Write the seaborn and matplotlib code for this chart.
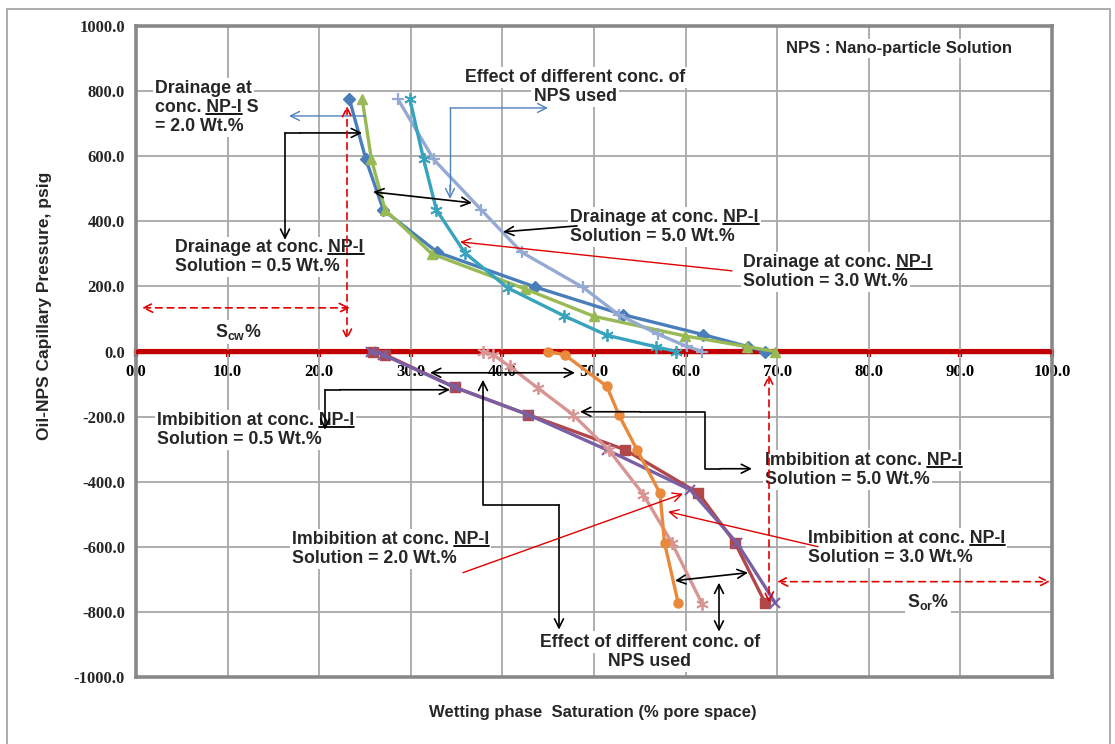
import numpy as np
import pandas as pd
import matplotlib.pyplot as plt
import seaborn as sns
from matplotlib.lines import Line2D
from matplotlib.patches import Rectangle
from matplotlib.transforms import IdentityTransform

sns.set_style("white")
plt.rcParams['font.family'] = ['Liberation Sans', 'DejaVu Sans']
plt.rcParams['mathtext.fontset'] = 'custom'
plt.rcParams['mathtext.bf'] = 'Liberation Sans:bold'
plt.rcParams['mathtext.rm'] = 'Liberation Sans:bold'

# Drainage curves: wetting phase saturation (%) vs capillary pressure (psig)
d05_sw = [23.3, 25.1, 27.0, 32.9, 43.6, 53.2, 61.9, 66.8, 68.7]
d05_pc = [775, 590, 435, 305, 198, 113, 52, 15, 0]
d20_sw = [24.7, 25.7, 27.2, 32.3, 42.5, 50.0, 59.9, 66.7, 69.8]
d20_pc = [775, 590, 435, 300, 192, 108, 48, 15, 0]
d50_sw = [28.6, 32.5, 37.7, 42.1, 48.8, 52.7, 57.0, 60.1, 61.8]
d50_pc = [775, 590, 435, 305, 197, 113, 53, 16, 0]
d30_sw = [29.9, 31.4, 32.8, 35.9, 40.6, 46.7, 51.4, 56.8, 59.0]
d30_pc = [775, 590, 435, 303, 195, 110, 50, 14, 0]

# Imbibition curves
i05_sw = [25.9, 27.2, 34.8, 42.8, 53.4, 61.4, 65.4, 68.7]
i05_pc = [0, -10, -110, -194, -302, -435, -588, -773]
i20_sw = [25.7, 27.0, 34.8, 42.8, 51.4, 60.5, 65.6, 69.8]
i20_pc = [0, -10, -110, -194, -302, -425, -588, -773]
i50_sw = [37.9, 39.0, 40.8, 43.9, 47.7, 51.6, 55.4, 58.5, 61.8]
i50_pc = [0, -10, -46, -113, -194, -302, -440, -588, -775]
i30_sw = [45.0, 46.8, 51.4, 52.7, 54.7, 57.2, 57.7, 59.2]
i30_pc = [0, -10, -107, -194, -302, -435, -588, -773]

xticks = [0, 10, 20, 30, 40, 50, 60, 70, 80, 90, 100]
yticks = [-1000, -800, -600, -400, -200, 0, 200, 400, 600, 800, 1000]

W, H = 1115, 744
fig = plt.figure(figsize=(W / 100, H / 100), dpi=100)
ax = fig.add_axes([136 / W, 1 - 677 / H, (1052 - 136) / W, (677 - 26) / H])

# outer chart frame
fig.add_artist(Rectangle((7 / W, -0.02), (1110 - 7) / W, 1.02 - 9 / H, transform=fig.transFigure,
                         fill=False, edgecolor='#a0a0a0', lw=1.2))

series = [
    (d05_sw, d05_pc, '#4A7EBB', 'D', 6.5, 1.0),
    (d20_sw, d20_pc, '#98B954', '^', 7, 1.0),
    (d50_sw, d50_pc, '#95AAD3', '+', 9, 1.6),
    (d30_sw, d30_pc, '#38A3BD', (6, 2, 0), 9, 1.3),
    (i05_sw, i05_pc, '#B2474A', 's', 6.5, 1.0),
    (i20_sw, i20_pc, '#7A5FA5', 'x', 7, 1.5),
    (i50_sw, i50_pc, '#D99594', (6, 2, 0), 9, 1.3),
    (i30_sw, i30_pc, '#E8893B', 'o', 6.5, 1.0),
]
for sw, pc, c, m, ms, mew in series:
    sns.lineplot(x=sw, y=pc, sort=False, estimator=None, color=c, marker=m,
                 markersize=ms, markeredgecolor=c, markeredgewidth=mew,
                 linewidth=2.4, ax=ax, zorder=4)

ax.axhline(0, color='#C00000', lw=3.2, zorder=3.5)

ax.set_xlim(0, 100)
ax.set_ylim(-1000, 1000)
ax.set_xticks(xticks)
ax.set_yticks(yticks)
ax.set_xticklabels([])
ax.set_yticklabels([f'{v:.1f}' for v in yticks], family='Liberation Serif',
                   fontweight='bold', fontsize=12)
ax.tick_params(axis='x', length=0)
ax.tick_params(axis='y', length=4, width=1.2, color='#888888', pad=4)
ax.grid(True, color='#a8a8a8', lw=1.3)
ax.set_axisbelow(True)
for s in ax.spines.values():
    s.set_color('#888888')
    s.set_linewidth(2.6)
ax.set_xlabel('')
ax.set_ylabel('')

# zero axis carrying the x tick labels
sec = ax.secondary_xaxis(0.5)
sec.set_alignment('bottom')
sec.spines['bottom'].set_color('#C00000')
sec.spines['bottom'].set_linewidth(3)
sec.set_xticks(xticks)
sec.set_xticklabels([f'{v:.1f}' for v in xticks], family='Liberation Serif',
                    fontweight='bold', fontsize=12)
sec.tick_params(axis='x', colors='#C00000', length=4, width=3, pad=5, labelcolor='black')

fig.text(45 / W, 1 - 306 / H, 'Oil-NPS Capillary Pressure, psig', rotation=90,
         ha='center', va='center', fontsize=12.5, fontweight='bold')
fig.text(593 / W, 1 - 713 / H, 'Wetting phase  Saturation (% pore space)',
         ha='center', va='center', fontsize=12, fontweight='bold')

# pixel -> data helpers for the annotations
X0, XS = 136.0, 9.16
Y0, YS = 351.7, 0.3257


def dx(p):
    return (p - X0) / XS


def dy(p):
    return (Y0 - p) / YS


FS = 12.8
underlines = []


def label(x, y, lines, ha='left', ul=None, size=FS):
    for k, s in enumerate(lines):
        t = ax.text(dx(x), dy(y + 5 + 19 * k), s, ha=ha, va='baseline', fontsize=size,
                    fontweight='bold', zorder=3, clip_on=False,
                    bbox=dict(boxstyle='square,pad=0.12', fc='white', ec='none'))
        if ul and ul in s:
            underlines.append((t, s, ul))


def arrow(x0, y0, x1, y1, color='black', style='->', ls='-', lw=1.2):
    ax.annotate('', xy=(dx(x1), dy(y1)), xytext=(dx(x0), dy(y0)), annotation_clip=False,
                arrowprops=dict(arrowstyle=style, color=color, lw=lw, ls=ls,
                                shrinkA=0, shrinkB=0, mutation_scale=16), zorder=6)


def poly(xs, ys, color='black', lw=1.2):
    ax.plot([dx(v) for v in xs], [dy(v) for v in ys], color=color, lw=lw,
            clip_on=False, zorder=6)


label(786, 48, ['NPS : Nano-particle Solution'], size=12)
label(575, 77, ['Effect of different conc. of', 'NPS used'], ha='center')
label(155, 88, ['Drainage at', 'conc. NP-I S', '= 2.0 Wt.%'], ul='NP-I')
label(175, 247, ['Drainage at conc. NP-I', 'Solution = 0.5 Wt.%'], ul='NP-I')
label(570, 217, ['Drainage at conc. NP-I', 'Solution = 5.0 Wt.%'], ul='NP-I')
label(743, 262, ['Drainage at conc. NP-I', 'Solution = 3.0 Wt.%'], ul='NP-I')
label(215, 332, [r'$\mathbf{S}_{\mathbf{cw}}$%'])
label(157, 420, ['Imbibition at conc. NP-I', 'Solution = 0.5 Wt.%'], ul='NP-I')
label(292, 539, ['Imbibition at conc. NP-I', 'Solution = 2.0 Wt.%'], ul='NP-I')
label(765, 460, ['Imbibition at conc. NP-I', 'Solution = 5.0 Wt.%'], ul='NP-I')
label(808, 538, ['Imbibition at conc. NP-I', 'Solution = 3.0 Wt.%'], ul='NP-I')
label(650, 642, ['Effect of different conc. of', 'NPS used'], ha='center')
label(907, 602, [r'$\mathbf{S}_{\mathbf{or}}$%'])

# connectors and arrows
blue = '#4F81BD'
poly([450, 450], [108, 190], color=blue, lw=1)
arrow(450, 108, 548, 108, color=blue, lw=1)
arrow(450, 185, 450, 199, color=blue, lw=1)
arrow(365, 116, 289, 116, color=blue, lw=1)

arrow(300, 133, 362, 133)
poly([285, 300], [133, 133])
arrow(285, 133, 285, 240)
arrow(373, 192, 472, 203, style='<->')
arrow(577, 226, 503, 232)
arrow(732, 271, 460, 242, color='#E00000', lw=1)

arrow(340, 390, 450, 390)
poly([325, 340], [390, 390])
arrow(325, 390, 325, 430)
arrow(430, 373, 575, 373, style='<->')

arrow(483, 420, 483, 380)
poly([483, 483, 559], [420, 505, 505])
arrow(559, 505, 559, 630)

arrow(640, 412, 580, 412)
poly([640, 705, 705, 720], [412, 412, 469, 469])
arrow(720, 469, 752, 469)

arrow(675, 581, 748, 573, style='<->')
arrow(719, 583, 719, 632, style='<->')
arrow(818, 547, 668, 512, color='#E00000', lw=1)
arrow(463, 573, 683, 494, color='#E00000', lw=1)

red = '#E00000'
arrow(142, 308, 350, 308, color=red, style='<->', ls=(0, (4, 3)))
arrow(347, 106, 347, 340, color=red, style='<->', ls=(0, (4, 3)))
arrow(777, 582, 1050, 582, color=red, style='<->', ls=(0, (4, 3)))
arrow(769, 375, 769, 603, color=red, style='<->', ls=(0, (4, 3)))

# underline the "NP-I" part of the labels
fig.canvas.draw()
rend = fig.canvas.get_renderer()
for t, s, ul in underlines:
    pos = t.get_position()
    head = s[:s.index(ul) + len(ul)]
    tmp = ax.text(pos[0], pos[1], head, ha='left', va='baseline', fontsize=t.get_fontsize(),
                  fontweight='bold')
    tmp2 = ax.text(pos[0], pos[1], ul, ha='left', va='baseline', fontsize=t.get_fontsize(),
                   fontweight='bold')
    b1 = tmp.get_window_extent(rend)
    b2 = tmp2.get_window_extent(rend)
    tmp.remove()
    tmp2.remove()
    yb = ax.transData.transform(pos)[1] - 2.5
    fig.add_artist(Line2D([b1.x1 - b2.width, b1.x1], [yb, yb], transform=IdentityTransform(),
                          color='black', lw=1.3, zorder=7))

fig.savefig('out.png', dpi=100)
